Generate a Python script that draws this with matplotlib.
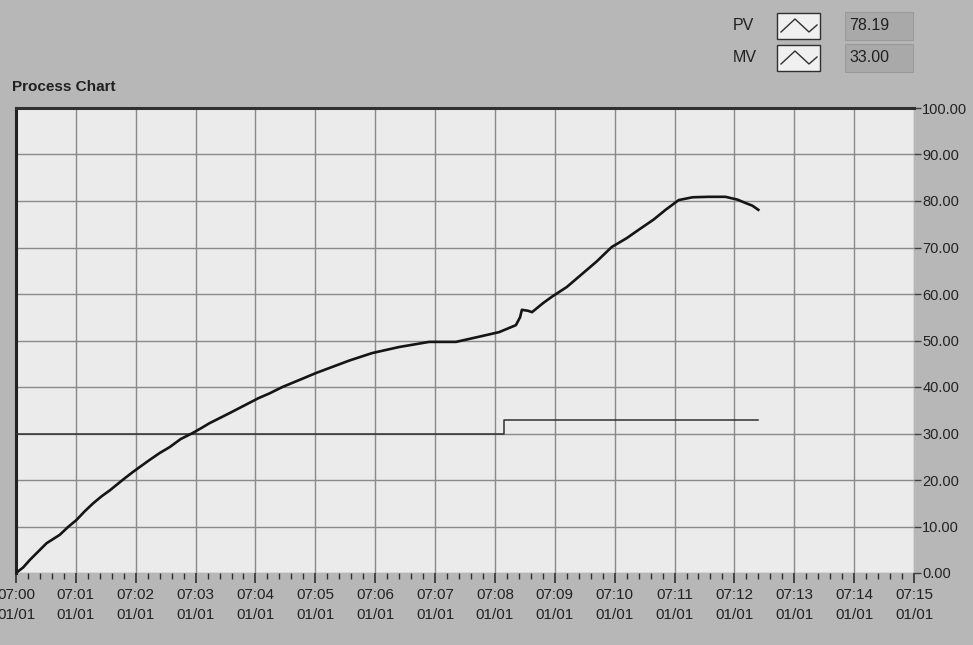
import matplotlib
matplotlib.use("Agg")
import matplotlib.pyplot as plt
from matplotlib.patches import Rectangle
from matplotlib.lines import Line2D
from matplotlib.ticker import MultipleLocator

# ---- data (minutes after 07:00) ----
pv_t = [0.0, 0.12, 0.23, 0.37, 0.51, 0.62, 0.73, 0.87, 1.01, 1.15, 1.29, 1.43, 1.57, 1.78,
        1.95, 2.1, 2.23, 2.4, 2.57, 2.75, 2.95, 3.1, 3.23, 3.4, 3.57, 3.75, 3.9, 4.05, 4.23,
        4.45, 4.75, 5.01, 5.3, 5.57, 5.95, 6.4, 6.9, 7.35, 7.73, 8.07, 8.35, 8.42, 8.45,
        8.55, 8.62, 8.8, 8.95, 9.2, 9.4, 9.7, 9.95, 10.2, 10.4, 10.65, 10.85, 11.07, 11.3,
        11.57, 11.85, 12.05, 12.18, 12.3, 12.4]
pv_v = [0.0, 1.2, 2.8, 4.6, 6.4, 7.3, 8.2, 9.9, 11.4, 13.3, 15.0, 16.5, 17.8, 20.0,
        21.7, 23.1, 24.3, 25.8, 27.1, 28.8, 30.1, 31.2, 32.2, 33.3, 34.4, 35.6, 36.6, 37.6, 38.6,
        40.0, 41.6, 43.0, 44.4, 45.7, 47.3, 48.6, 49.7, 49.7, 50.8, 51.8, 53.3, 55.0, 56.6,
        56.4, 56.1, 58.0, 59.4, 61.5, 63.7, 67.0, 70.1, 72.0, 73.8, 76.0, 78.1, 80.2, 80.8,
        80.9, 80.9, 80.3, 79.6, 79.0, 78.1]
mv_t = [0.0, 8.15, 8.15, 12.4]
mv_v = [30.0, 30.0, 33.0, 33.0]

x_labels = ["07:%02d" % m for m in range(16)]
date_label = "01/01"
y_ticks = [0, 10, 20, 30, 40, 50, 60, 70, 80, 90, 100]
pv_value = "78.19"
mv_value = "33.00"

FONT = ["Liberation Sans", "DejaVu Sans"]
plt.rcParams["font.family"] = FONT

fig = plt.figure(figsize=(9.73, 6.45), dpi=100)
fig.patch.set_facecolor("#b7b7b7")

W, H = 973.0, 645.0
ax = fig.add_axes([16 / W, 1 - 573 / H, (914 - 16) / W, (573 - 108) / H])
ax.set_facecolor("#ebebeb")

ax.plot(mv_t, mv_v, color="#303030", lw=1.1, zorder=3)
ax.plot(pv_t, pv_v, color="#151515", lw=1.9, zorder=4)

ax.set_xlim(0, 15)
ax.set_ylim(0, 100)
ax.set_xticks(range(16))
ax.set_xticklabels([f"{l}\n{date_label}" for l in x_labels], fontsize=11,
                   color="#222222", linespacing=1.5)
ax.xaxis.set_minor_locator(MultipleLocator(0.2))
ax.tick_params(axis="x", which="major", length=7, width=1.2, color="#303030", pad=4)
ax.tick_params(axis="x", which="minor", length=4, width=1.0, color="#303030")

ax.yaxis.tick_right()
ax.set_yticks(y_ticks)
ax.set_yticklabels(["%.2f" % v for v in y_ticks], fontsize=10.5, color="#222222")
ax.tick_params(axis="y", which="major", length=5, width=1.0, color="#404040", pad=1)

ax.grid(True, which="major", color="#8a8a8a", lw=1.0)
ax.set_axisbelow(True)

for s in ["right", "bottom"]:
    ax.spines[s].set_visible(False)
ax.spines["left"].set_linewidth(2.2)
ax.spines["left"].set_color("#202020")
ax.spines["top"].set_linewidth(2.2)
ax.spines["top"].set_color("#303030")

# title
fig.text(12 / W, 1 - 87 / H, "Process Chart", fontsize=11, fontweight="bold",
         color="#202020", va="center", ha="left")

# legend
for i, (name, val) in enumerate([("PV", pv_value), ("MV", mv_value)]):
    yc = 26 + i * 32
    fig.text(733 / W, 1 - yc / H, name, fontsize=11.5, color="#202020", va="center")
    fig.patches.append(Rectangle((777 / W, 1 - (yc + 13) / H), 43 / W, 26 / H,
                                 transform=fig.transFigure, facecolor="#f0f0f0",
                                 edgecolor="#303030", lw=1.0))
    fig.lines.append(Line2D([781 / W, 795 / W, 809 / W, 817 / W],
                            [1 - (yc + 6) / H, 1 - (yc - 7) / H, 1 - (yc + 6) / H, 1 - (yc - 1) / H],
                            transform=fig.transFigure, color="#303030", lw=1.0))
    fig.patches.append(Rectangle((845 / W, 1 - (yc + 14) / H), 68 / W, 28 / H,
                                 transform=fig.transFigure, facecolor="#a9a9a9",
                                 edgecolor="#9a9a9a", lw=0.8))
    fig.text(849 / W, 1 - yc / H, val, fontsize=11.5, color="#202020", va="center")

fig.savefig("out.png", dpi=100, facecolor=fig.get_facecolor())
